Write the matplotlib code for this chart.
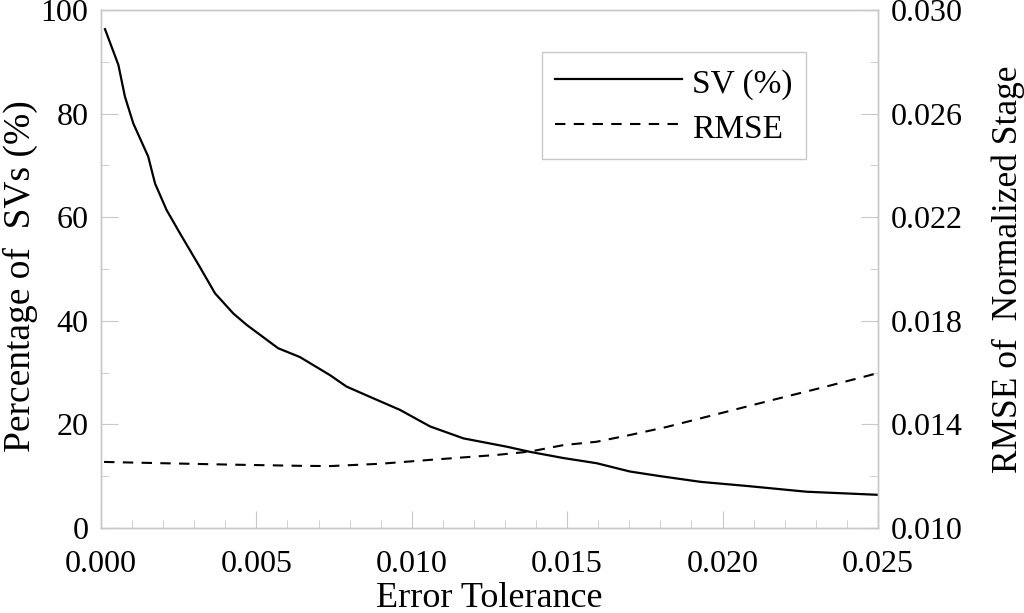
import matplotlib.pyplot as plt
import numpy as np
from matplotlib.ticker import MultipleLocator, FixedLocator, FormatStrFormatter

plt.rcParams['font.family'] = ['Liberation Serif', 'DejaVu Serif']

# SV percentage vs error tolerance
sv_x = [0.00013, 0.00056, 0.00077, 0.00104, 0.00152, 0.00174, 0.00211, 0.00254,
        0.00318, 0.00367, 0.00426, 0.00469, 0.0057, 0.0064, 0.00737, 0.0079,
        0.00866, 0.00962, 0.01059, 0.01166, 0.01305, 0.0138, 0.01488, 0.01595,
        0.01702, 0.018, 0.0193, 0.0208, 0.0227, 0.025]
sv_y = [96.3, 89.4, 83.3, 78.1, 71.7, 66.5, 61.4, 56.9,
        50.4, 45.3, 41.4, 39.2, 34.7, 33.0, 29.5, 27.3,
        25.3, 22.8, 19.6, 17.3, 15.7, 14.7, 13.5, 12.5,
        10.9, 10.0, 8.9, 8.1, 7.0, 6.4]

# RMSE of normalized stage
rmse_x = [0.0001, 0.002, 0.004, 0.0064, 0.00737, 0.00900, 0.01059, 0.01273,
          0.0138, 0.01488, 0.01595, 0.01702, 0.0182, 0.0200, 0.0216, 0.0233, 0.025]
rmse_y = [0.01255, 0.01250, 0.01245, 0.01240, 0.01239, 0.01248, 0.01263, 0.01282,
          0.01295, 0.01320, 0.01333, 0.01359, 0.01390, 0.01445, 0.01494, 0.01545, 0.01598]

fig = plt.figure(figsize=(10.24, 6.13), dpi=100)
ax = fig.add_axes([0.0986, 0.1387, 0.7588, 0.845])
ax2 = ax.twinx()

l1, = ax.plot(sv_x, sv_y, color='black', lw=1.6, label='SV (%)')
l2, = ax2.plot(rmse_x, rmse_y, color='black', lw=1.5, ls=(0, (5, 4)), label='RMSE')

ax.set_xlim(0, 0.025)
ax.set_ylim(0, 100)
ax2.set_ylim(0.010, 0.030)

ax.xaxis.set_major_locator(MultipleLocator(0.005))
ax.xaxis.set_minor_locator(MultipleLocator(0.001))
ax.xaxis.set_major_formatter(FormatStrFormatter('%.3f'))
ax.yaxis.set_major_locator(MultipleLocator(20))
ax.yaxis.set_minor_locator(MultipleLocator(10))
ax2.yaxis.set_major_locator(FixedLocator(np.arange(0.010, 0.0301, 0.004)))
ax2.yaxis.set_minor_locator(FixedLocator(np.arange(0.010, 0.0301, 0.002)))
ax2.yaxis.set_major_formatter(FormatStrFormatter('%.3f'))

for a in (ax, ax2):
    for s in a.spines.values():
        s.set_color('#c8c8c8')
        s.set_linewidth(1.0)
    a.tick_params(which='both', direction='in', color='#c8c8c8', labelsize=23)
    a.tick_params(which='major', length=12, pad=9)
    a.tick_params(which='minor', length=6)
ax.tick_params(axis='x', pad=16)

ax.set_xlabel('Error Tolerance', fontsize=26)
ax.xaxis.set_label_coords(0.5, -0.104)
ax.set_ylabel('Percentage of  SVs (%)', fontsize=27)
ax.yaxis.set_label_coords(-0.081, 0.4865)
ax2.set_ylabel('RMSE of  Normalized Stage', fontsize=25.5)
ax2.yaxis.set_label_coords(1.146, 0.5)

leg = ax.legend([l1, l2], ['SV (%)', 'RMSE'], loc='upper right',
                bbox_to_anchor=(0.907, 0.919), borderaxespad=0, fontsize=24,
                handlelength=3.8, handleheight=1.15, fancybox=False, framealpha=1,
                borderpad=0.4, labelspacing=0.3, handletextpad=0.3)
leg.get_frame().set_edgecolor('#c8c8c8')
leg.get_frame().set_linewidth(1.0)

fig.savefig('out.png', dpi=100)
